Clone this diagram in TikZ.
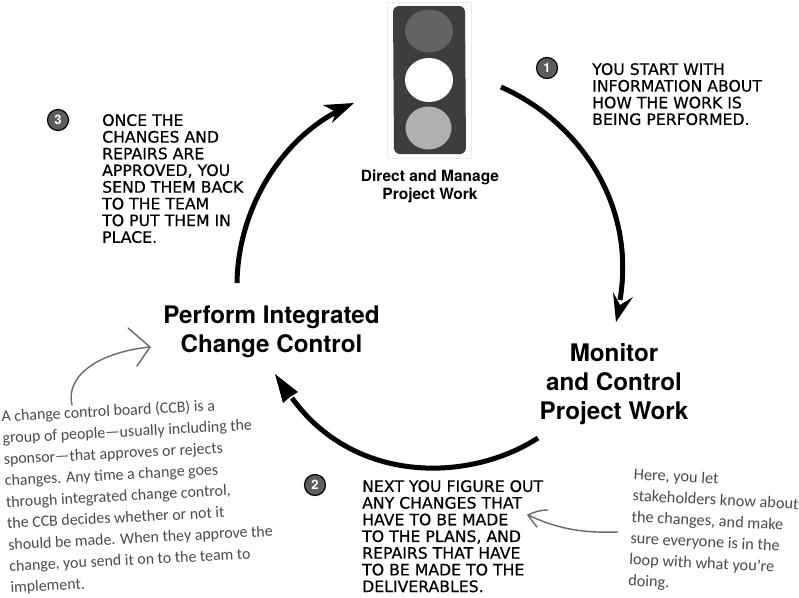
\documentclass[tikz,border=0pt]{standalone}
\usepackage{fontspec}
\setmainfont{TeX Gyre Heros}
\newfontfamily\capsfont[FakeBold=0.5]{DejaVu Sans}
\newfontfamily\handfont{Carlito}
\definecolor{housing}{HTML}{3D3D3D}
\definecolor{lamptop}{HTML}{636363}
\definecolor{lampbottom}{HTML}{B0B0B2}
\definecolor{badge}{HTML}{5C5C5C}
\definecolor{pencil}{HTML}{4A4A4A}
\definecolor{pointer}{HTML}{686868}
\tikzset{
  bigarc/.style={line width=5pt,black},
  bighead/.style={fill=black,draw=none},
  thinarc/.style={line width=1.4pt,pointer,line cap=round,line join=round},
  numbadge/.style={circle,draw=black,line width=1.2pt,fill=badge,text=white,minimum size=21pt,inner sep=0pt,font=\bfseries\fontsize{13}{13}\selectfont},
  capsnote/.style={anchor=north west,align=left,inner sep=0pt,font=\capsfont\fontsize{15.7}{16.7}\selectfont},
  handnote/.style={anchor=north west,align=left,inner sep=0pt,text=pencil,font=\handfont\fontsize{15.9}{21.4}\selectfont},
  stage/.style={align=center,inner sep=0pt,font=\bfseries\fontsize{24.2}{29}\selectfont},
}
\begin{document}
\begin{tikzpicture}[x=1pt,y=-1pt]
\useasboundingbox (0,0) rectangle (799,597);

% traffic light
\draw[draw=black!8,fill=white] (387,2) rectangle (471,158);
\fill[housing,rounded corners=6pt] (393,6) -- (465,6) -- (466,154) -- (394,154) -- cycle;
\fill[lamptop] (429,31) ellipse [x radius=24,y radius=21.5];
\fill[white] (429,80) ellipse [x radius=24,y radius=22];
\fill[lampbottom] (428.5,128) ellipse [x radius=23,y radius=21.5];

% process stages
\node[align=center,inner sep=0pt,font=\bfseries\fontsize{15.5}{18.5}\selectfont] (direct) at (430,186.5) {Direct and Manage\\Project Work};
\node[stage] (perform) at (271.5,332) {Perform Integrated\\Change Control};
\node[stage] (monitor) at (614,384.5) {Monitor\\and Control\\Project Work};

% cycle arcs
\coordinate (a1s) at (501,87);
\coordinate (a1e) at (620,300);
\coordinate (a1t) at (616,322);
\coordinate (a1l) at (613,292);
\coordinate (a1r) at (633,297);
\coordinate (a1n) at (620,305);
\draw[bigarc] (a1s) .. controls (580,122) and (636,205) .. (a1e);
\fill[bighead] (a1l) -- (a1n) -- (a1r) -- (a1t) -- cycle;

\coordinate (a2s) at (538,438);
\coordinate (a2e) at (292,398);
\coordinate (a2t) at (275,374);
\coordinate (a2l) at (283,403);
\coordinate (a2r) at (298,392);
\coordinate (a2n) at (290,397);
\draw[bigarc] (a2s) .. controls (470,482) and (355,485) .. (a2e);
\fill[bighead] (a2l) -- (a2n) -- (a2r) -- (a2t) -- cycle;

\coordinate (a3s) at (237,283);
\coordinate (a3e) at (340,110);
\coordinate (a3t) at (354,103);
\coordinate (a3l) at (323,105);
\coordinate (a3r) at (332,123);
\coordinate (a3n) at (336,112);
\draw[bigarc] (a3s) .. controls (238,210) and (280,140) .. (a3e);
\fill[bighead] (a3l) -- (a3n) -- (a3r) -- (a3t) -- cycle;

% numbered steps
\node[numbadge] (n1) at (547,68) {1};
\node[numbadge] (n2) at (315,485) {2};
\node[numbadge] (n3) at (58,120) {3};
\node[capsnote] (t1) at (592,63) {YOU START WITH\\INFORMATION ABOUT\\HOW THE WORK IS\\BEING PERFORMED.};
\node[capsnote] (t2) at (362,480) {NEXT YOU FIGURE OUT\\ANY CHANGES THAT\\HAVE TO BE MADE\\TO THE PLANS, AND\\REPAIRS THAT HAVE\\TO BE MADE TO THE\\DELIVERABLES.};
\node[capsnote] (t3) at (102,114) {ONCE THE\\CHANGES AND\\REPAIRS ARE\\APPROVED, YOU\\SEND THEM BACK\\TO THE TEAM\\TO PUT THEM IN\\PLACE.};

% handwritten notes
\node[handnote,rotate=3] (ccb) at (1,410) {A change control board (CCB) is a\\group of people—usually including the\\sponsor—that approves or rejects\\changes. Any time a change goes\\through integrated change control,\\the CCB decides whether or not it\\should be made. When they approve the\\change, you send it on to the team to\\implement.};
\node[handnote,rotate=-3,font=\handfont\fontsize{16.3}{21.3}\selectfont] (here) at (634,468) {Here, you let\\stakeholders know about\\the changes, and make\\sure everyone is in the\\loop with what you’re\\doing.};

% pencil pointers
\coordinate (p1s) at (72,405);
\coordinate (p1t) at (150,347);
\coordinate (p1a) at (128,328);
\coordinate (p1b) at (137,366);
\draw[thinarc] (p1s) .. controls (65,375) and (100,352) .. (p1t);
\draw[thinarc] (p1a) -- (p1t) -- (p1b);

\coordinate (p2s) at (618,532);
\coordinate (p2t) at (528,515);
\coordinate (p2a) at (548,510);
\coordinate (p2b) at (537,527);
\draw[thinarc] (p2s) .. controls (585,533) and (560,530) .. (p2t);
\draw[thinarc] (p2a) .. controls (540,510) and (534,512) .. (p2t) .. controls (531,520) and (534,523) .. (p2b);
\end{tikzpicture}
\end{document}
